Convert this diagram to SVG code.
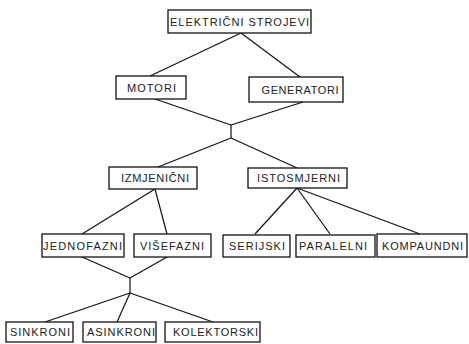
<svg xmlns="http://www.w3.org/2000/svg" width="469" height="344" viewBox="0 0 469 344">
<style>
rect{fill:#fff;stroke:#111;stroke-width:1.3}
text{font-family:"Liberation Sans",Arial,sans-serif;font-size:11px;fill:#222;text-anchor:middle}
#connectors line{stroke:#111;stroke-width:1.2;fill:none}
</style>
<rect x="0" y="0" width="469" height="344" style="stroke:none;fill:#fff"/>
<g id="connectors">
<line x1="241" y1="33" x2="150" y2="76"/>
<line x1="241" y1="33" x2="300" y2="77"/>
<line x1="155" y1="99" x2="231" y2="125"/>
<line x1="303" y1="102" x2="231" y2="125"/>
<line x1="231" y1="125" x2="231" y2="138"/>
<line x1="231" y1="138" x2="158" y2="167"/>
<line x1="231" y1="138" x2="297" y2="168"/>
<line x1="155" y1="189" x2="82" y2="234"/>
<line x1="155" y1="189" x2="167" y2="234"/>
<line x1="82" y1="257" x2="130" y2="278"/>
<line x1="167" y1="257" x2="130" y2="278"/>
<line x1="130" y1="278" x2="130" y2="293"/>
<line x1="130" y1="293" x2="45" y2="322"/>
<line x1="130" y1="293" x2="117" y2="322"/>
<line x1="130" y1="293" x2="213" y2="322"/>
<line x1="297" y1="188" x2="255" y2="234"/>
<line x1="297" y1="188" x2="330" y2="234"/>
<line x1="297" y1="188" x2="420" y2="234"/>
</g>
<g id="elektricni-strojevi"><rect x="168" y="10" width="143" height="23"/><text x="239.5" y="25.5" textLength="139" lengthAdjust="spacing">ELEKTRIČNI STROJEVI</text></g>
<g id="motori"><rect x="116" y="76" width="70" height="23"/><text x="151.5" y="91.5" textLength="49" lengthAdjust="spacing">MOTORI</text></g>
<g id="generatori"><rect x="249" y="77" width="94" height="25"/><text x="300" y="93.5" textLength="77" lengthAdjust="spacing">GENERATORI</text></g>
<g id="izmjenicni"><rect x="109" y="167" width="88" height="22"/><text x="155" y="182" textLength="68" lengthAdjust="spacing">IZMJENIČNI</text></g>
<g id="istosmjerni"><rect x="248" y="168" width="99" height="20"/><text x="298.5" y="182" textLength="83" lengthAdjust="spacing">ISTOSMJERNI</text></g>
<g id="jednofazni"><rect x="42" y="234" width="82" height="23"/><text x="82.5" y="249.5" textLength="79" lengthAdjust="spacing">JEDNOFAZNI</text></g>
<g id="visefazni"><rect x="134" y="234" width="77" height="23"/><text x="172" y="249.5" textLength="64" lengthAdjust="spacing">VIŠEFAZNI</text></g>
<g id="serijski"><rect x="223" y="235" width="67" height="22"/><text x="257" y="250" textLength="56" lengthAdjust="spacing">SERIJSKI</text></g>
<g id="paralelni"><rect x="296" y="235" width="79" height="22"/><text x="333" y="250" textLength="68" lengthAdjust="spacing">PARALELNI</text></g>
<g id="kompaundni"><rect x="377" y="234" width="90" height="23"/><text x="422.5" y="249.5" textLength="81" lengthAdjust="spacing">KOMPAUNDNI</text></g>
<g id="sinkroni"><rect x="6" y="322" width="67" height="20"/><text x="40" y="336" textLength="60" lengthAdjust="spacing">SINKRONI</text></g>
<g id="asinkroni"><rect x="83" y="322" width="73" height="20"/><text x="121" y="336" textLength="68" lengthAdjust="spacing">ASINKRONI</text></g>
<g id="kolektorski"><rect x="165" y="322" width="95" height="20"/><text x="215.5" y="336" textLength="85" lengthAdjust="spacing">KOLEKTORSKI</text></g>
</svg>
